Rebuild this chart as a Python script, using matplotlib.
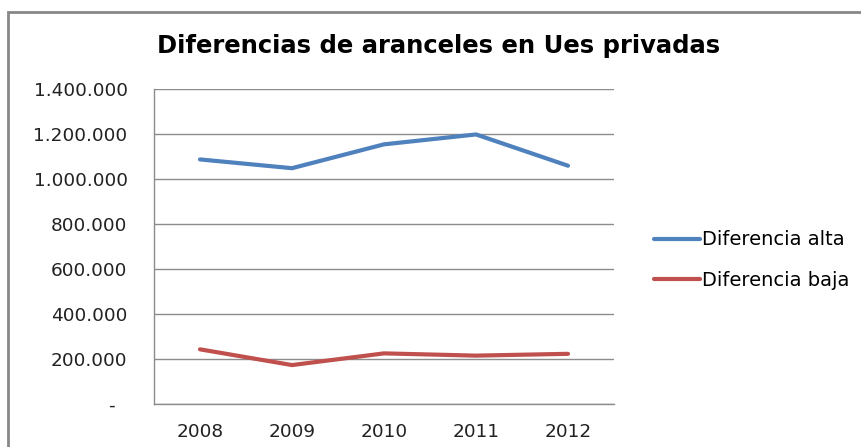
import matplotlib.pyplot as plt
from matplotlib.patches import Rectangle
from matplotlib.ticker import FixedLocator

years = ['2008', '2009', '2010', '2011', '2012']
diferencia_alta = [1087000, 1048000, 1154000, 1198000, 1059000]
diferencia_baja = [243000, 173000, 225000, 215000, 223000]
y_ticks = [0, 200000, 400000, 600000, 800000, 1000000, 1200000, 1400000]
y_labels = ['-  ', '200.000', '400.000', '600.000', '800.000',
            '1.000.000', '1.200.000', '1.400.000']

plt.rcParams['font.family'] = ['DejaVu Sans']

W, H = 861, 447
fig = plt.figure(figsize=(W / 100, H / 100), dpi=100)
ax = fig.add_axes([154 / W, 1 - 404 / H, (614 - 154) / W, (404 - 89) / H])

x = range(len(years))
ax.plot(x, diferencia_alta, color='#4F81BD', lw=3, solid_capstyle='round', label='Diferencia alta')
ax.plot(x, diferencia_baja, color='#C0504D', lw=3, solid_capstyle='round', label='Diferencia baja')

ax.set_xlim(-0.5, len(years) - 0.5)
ax.set_ylim(0, 1400000)
ax.yaxis.set_major_locator(FixedLocator(y_ticks))
ax.set_yticklabels(y_labels)
ax.set_xticks(list(x))
ax.set_xticklabels(years)
ax.tick_params(axis='both', length=0, labelsize=13.3, colors='#222222')
ax.tick_params(axis='y', pad=19)
ax.tick_params(axis='x', pad=14)
ax.grid(axis='y', color='#8c8c8c', lw=1)
ax.set_axisbelow(True)
for s in ['top', 'right']:
    ax.spines[s].set_visible(False)
for s in ['left', 'bottom']:
    ax.spines[s].set_color('#8c8c8c')
    ax.spines[s].set_linewidth(1)

fig.text(439 / W, 1 - 46 / H, 'Diferencias de aranceles en Ues privadas',
         ha='center', va='center', fontsize=17.5, fontweight='bold')

ax.legend(loc='center left', bbox_to_anchor=(636 / W, 1 - 260 / H),
          bbox_transform=fig.transFigure, frameon=False, fontsize=14,
          handlelength=2.4, handletextpad=0.1, labelspacing=1.1)

# outer chart border
fig.patches.append(Rectangle((8 / W, -0.05), 1.1, 1 - 12 / H + 0.05, transform=fig.transFigure,
                             fill=False, edgecolor='#878787', lw=2))

fig.savefig('out.png', dpi=100)
